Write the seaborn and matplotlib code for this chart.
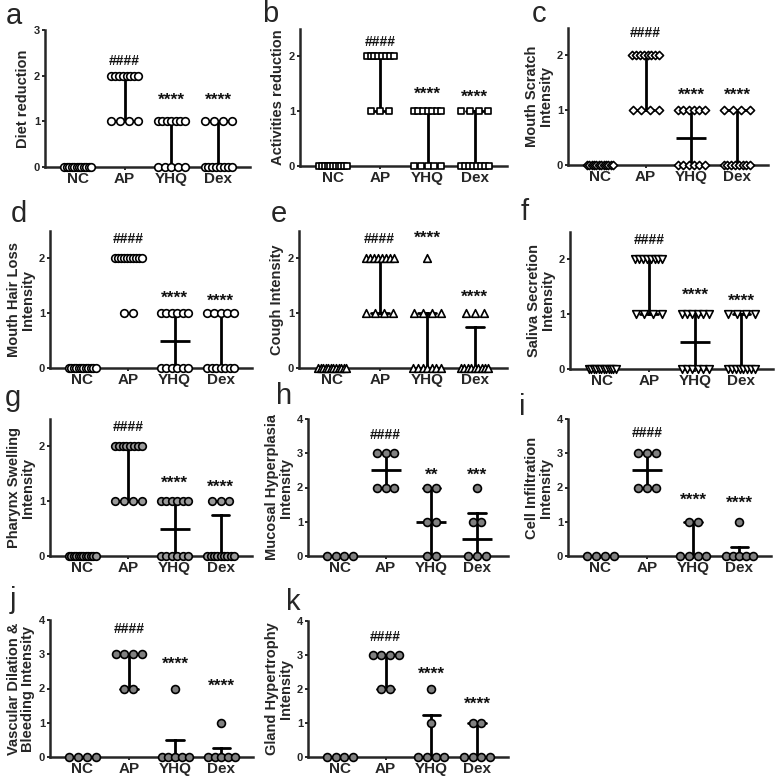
import numpy as np
import pandas as pd
import matplotlib
matplotlib.use("Agg")
import matplotlib.pyplot as plt
import seaborn as sns

# ---------------- data ----------------
groups = ["NC", "AP", "YHQ", "Dex"]

diet_reduction = {
    "NC": [0, 0, 0, 0, 0, 0, 0, 0, 0, 0, 0, 0],
    "AP": [2, 2, 2, 2, 2, 2, 2, 2, 1, 1, 1, 1],
    "YHQ": [1, 1, 1, 1, 1, 1, 1, 0, 0, 0, 0, 0],
    "Dex": [1, 1, 1, 1, 0, 0, 0, 0, 0, 0, 0, 0],
}
activities_reduction = {
    "NC": [0, 0, 0, 0, 0, 0, 0, 0, 0, 0, 0],
    "AP": [2, 2, 2, 2, 2, 2, 2, 2, 1, 1, 1],
    "YHQ": [1, 1, 1, 1, 1, 1, 1, 0, 0, 0, 0, 0],
    "Dex": [1, 1, 1, 1, 0, 0, 0, 0, 0, 0, 0, 0],
}
mouth_scratch = {
    "NC": [0, 0, 0, 0, 0, 0, 0, 0, 0, 0, 0, 0],
    "AP": [2, 2, 2, 2, 2, 2, 2, 2, 1, 1, 1, 1],
    "YHQ": [1, 1, 1, 1, 1, 1, 0, 0, 0, 0, 0, 0],
    "Dex": [1, 1, 1, 1, 0, 0, 0, 0, 0, 0, 0, 0],
}
mouth_hair_loss = {
    "NC": [0, 0, 0, 0, 0, 0, 0, 0, 0, 0, 0, 0],
    "AP": [2, 2, 2, 2, 2, 2, 2, 2, 2, 2, 1, 1],
    "YHQ": [1, 1, 1, 1, 1, 1, 0, 0, 0, 0, 0, 0],
    "Dex": [1, 1, 1, 1, 1, 0, 0, 0, 0, 0, 0, 0],
}
cough = {
    "NC": [0, 0, 0, 0, 0, 0, 0, 0, 0, 0, 0, 0],
    "AP": [2, 2, 2, 2, 2, 2, 2, 2, 1, 1, 1, 1],
    "YHQ": [2, 1, 1, 1, 1, 0, 0, 0, 0, 0, 0, 0],
    "Dex": [1, 1, 1, 0, 0, 0, 0, 0, 0, 0, 0, 0],
}
saliva_secretion = {
    "NC": [0, 0, 0, 0, 0, 0, 0, 0, 0, 0, 0, 0],
    "AP": [2, 2, 2, 2, 2, 2, 2, 2, 1, 1, 1, 1],
    "YHQ": [1, 1, 1, 1, 1, 1, 0, 0, 0, 0, 0, 0],
    "Dex": [1, 1, 1, 1, 0, 0, 0, 0, 0, 0, 0, 0],
}
pharynx_swelling = {
    "NC": [0, 0, 0, 0, 0, 0, 0, 0, 0, 0, 0, 0],
    "AP": [2, 2, 2, 2, 2, 2, 2, 2, 1, 1, 1, 1],
    "YHQ": [1, 1, 1, 1, 1, 1, 0, 0, 0, 0, 0, 0],
    "Dex": [1, 1, 1, 0, 0, 0, 0, 0, 0, 0, 0, 0],
}
mucosal_hyperplasia = {
    "NC": [0, 0, 0, 0],
    "AP": [3, 3, 3, 2, 2, 2],
    "YHQ": [2, 2, 1, 1, 0, 0],
    "Dex": [2, 1, 1, 0, 0, 0],
}
cell_infiltration = {
    "NC": [0, 0, 0, 0],
    "AP": [3, 3, 3, 2, 2, 2],
    "YHQ": [1, 1, 0, 0, 0, 0],
    "Dex": [1, 0, 0, 0, 0, 0],
}
vascular_bleeding = {
    "NC": [0, 0, 0, 0],
    "AP": [3, 3, 3, 3, 2, 2],
    "YHQ": [2, 0, 0, 0, 0, 0],
    "Dex": [1, 0, 0, 0, 0, 0],
}
gland_hypertrophy = {
    "NC": [0, 0, 0, 0],
    "AP": [3, 3, 3, 3, 2, 2],
    "YHQ": [2, 1, 0, 0, 0, 0],
    "Dex": [1, 1, 0, 0, 0, 0],
}

sig_a = ["", "####", "****", "****"]
sig_b = ["", "####", "****", "****"]
sig_c = ["", "####", "****", "****"]
sig_d = ["", "####", "****", "****"]
sig_e = ["", "####", "****", "****"]
sig_f = ["", "####", "****", "****"]
sig_g = ["", "####", "****", "****"]
sig_h = ["", "####", "**", "***"]
sig_i = ["", "####", "****", "****"]
sig_j = ["", "####", "****", "****"]
sig_k = ["", "####", "****", "****"]

# ---------------- style ----------------
sns.set_style("ticks")
plt.rcParams["font.family"] = ["Liberation Sans", "DejaVu Sans"]
plt.rcParams["font.weight"] = "bold"
plt.rcParams["axes.labelweight"] = "bold"

W = 778.0
fig = plt.figure(figsize=(7.78, 7.78), dpi=100)


def add_ax(l, t, r, b):
    return fig.add_axes([l / W, 1 - b / W, (r - l) / W, (b - t) / W])


def build_frame(panel, step=0.19, maxspan=0.58):
    rows = []
    for gi, g in enumerate(groups):
        vals = np.asarray(panel[g], float)
        for v in np.unique(vals):
            k = int((vals == v).sum())
            span = min((k - 1) * step, maxspan)
            for o in np.linspace(-span / 2, span / 2, k):
                rows.append((g, gi + o, v))
    return pd.DataFrame(rows, columns=["group", "xpos", "value"])


def iqr(v):
    q1, q3 = np.percentile(v, [25, 75], method="weibull")
    return q1, q3


# layout: (letter, data, ylabel, marker, size, face, ymax, yticks, sigs, sig_y, rect, letter_xy)
panels = [
    ("a", diet_reduction, "Diet reduction", "o", 30, "white", 3, [0, 1, 2, 3], sig_a,
     [0, 2.32, 1.47, 1.47], (45, 30, 250, 167), (6, 24)),
    ("b", activities_reduction, "Activities reduction", "s", 24, "white", 2.5, [0, 1, 2], sig_b,
     [0, 2.27, 1.31, 1.25], (300, 29, 507, 166), (262, 22)),
    ("c", mouth_scratch, "Mouth Scratch\nIntensity", "D", 17, "white", 2.5, [0, 1, 2], sig_c,
     [0, 2.4, 1.28, 1.28], (568, 28, 768, 165), (532, 22)),
    ("d", mouth_hair_loss, "Mouth Hair Loss\nIntensity", "o", 30, "white", 2.5, [0, 1, 2], sig_d,
     [0, 2.35, 1.28, 1.21], (50, 231, 252, 368), (11, 222)),
    ("e", cough, "Cough Intensity", "^", 30, "white", 2.5, [0, 1, 2], sig_e,
     [0, 2.36, 2.36, 1.29], (299, 231, 507, 368), (271, 222)),
    ("f", saliva_secretion, "Saliva Secretion\nIntensity", "v", 30, "white", 2.5, [0, 1, 2], sig_f,
     [0, 2.35, 1.35, 1.24], (570, 232, 773, 369), (521, 220)),
    ("g", pharynx_swelling, "Pharynx Swelling\nIntensity", "o", 30, "#9a9a9a", 2.5, [0, 1, 2], sig_g,
     [0, 2.36, 1.33, 1.25], (50, 419, 252, 556), (5, 406)),
    ("h", mucosal_hyperplasia, "Mucosal Hyperplasia\nIntensity", "o", 32, "#808080", 4, [0, 1, 2, 3, 4], sig_h,
     [0, 3.53, 2.36, 2.36], (308, 419, 508, 556), (276, 404)),
    ("i", cell_infiltration, "Cell Infiltration\nIntensity", "o", 32, "#808080", 4, [0, 1, 2, 3, 4], sig_i,
     [0, 3.6, 1.62, 1.54], (568, 419, 771, 556), (519, 415)),
    ("j", vascular_bleeding, "Vascular Dilation &\nBleeding Intensity", "o", 32, "#808080", 4, [0, 1, 2, 3, 4], sig_j,
     [0, 3.74, 2.72, 2.06], (50, 620, 253, 757), (10, 608)),
    ("k", gland_hypertrophy, "Gland Hypertrophy\nIntensity", "o", 32, "#808080", 4, [0, 1, 2, 3, 4], sig_k,
     [0, 3.53, 2.42, 1.55], (308, 621, 508, 757), (286, 610)),
]

for (letter, data, ylabel, marker, msize, face, ymax, yticks, sigs, sig_y,
     rect, lxy) in panels:
    ax = add_ax(*rect)
    df = build_frame(data)

    sns.pointplot(data=df, x="group", y="value", order=groups, estimator="median",
                  errorbar=iqr, capsize=0.38, color="black", linestyle="none",
                  marker="_", markersize=21, markeredgewidth=2.0,
                  err_kws={"linewidth": 2.0}, ax=ax)
    sns.scatterplot(data=df, x="xpos", y="value", marker=marker, s=msize,
                    color=face, edgecolor="black", linewidth=1.2, zorder=5,
                    clip_on=False, legend=False, ax=ax)

    for gi, (txt, yy) in enumerate(zip(sigs, sig_y)):
        if txt:
            fs = 10 if txt.startswith("#") else 12.5
            ax.text(gi, yy, txt, ha="center", va="center", fontsize=fs,
                    fontweight="bold", color="#111111")

    ax.set_xlim(-0.7, 3.68)
    ax.set_ylim(0, ymax)
    ax.set_yticks(yticks)
    ax.set_yticklabels([str(t) for t in yticks], fontsize=8, fontweight="bold")
    ax.set_xticks(range(len(groups)))
    ax.set_xticklabels(groups, fontsize=11, fontweight="bold")
    ax.set_xlabel("")
    ax.set_ylabel(ylabel, fontsize=10.5, fontweight="bold", labelpad=3, linespacing=1.0)
    for s in ["top", "right"]:
        ax.spines[s].set_visible(False)
    for s in ["left", "bottom"]:
        ax.spines[s].set_linewidth(1.8)
    ax.tick_params(axis="both", width=1.4, length=2.5, pad=1)

    fig.text(lxy[0] / W, 1 - lxy[1] / W, letter, fontsize=21, fontweight="normal",
             ha="left", va="baseline")

fig.savefig("out.png", dpi=100)
